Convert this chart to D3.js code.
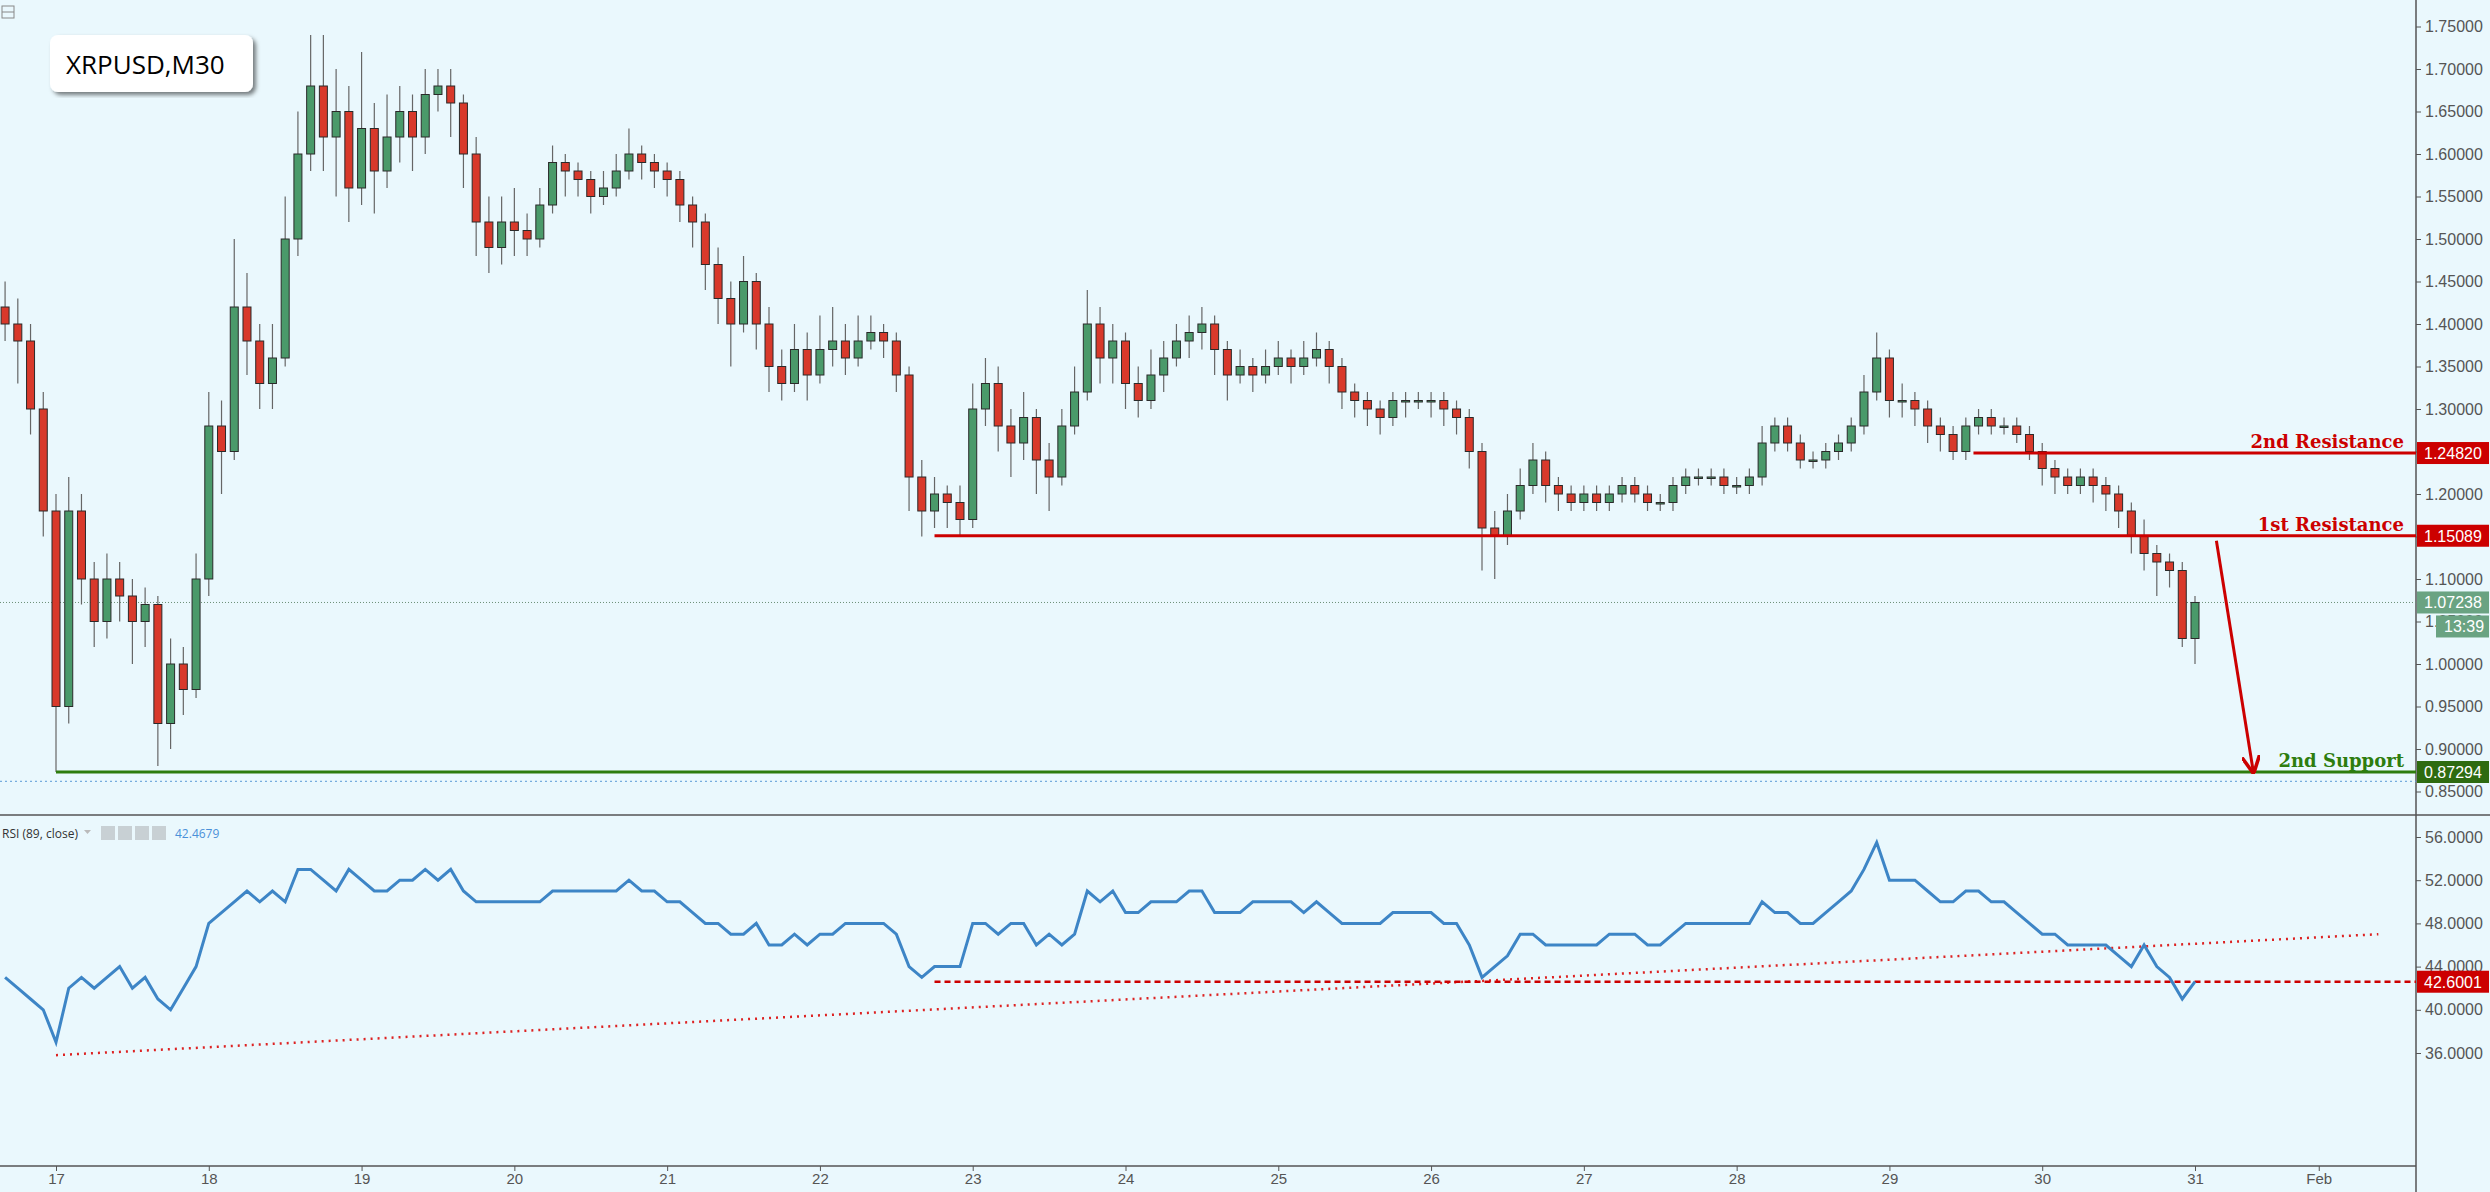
<!DOCTYPE html>
<html><head><meta charset="utf-8">
<script src="https://cdn.jsdelivr.net/npm/d3@7"></script>
<style>body{margin:0;background:#eaf8fd;}svg{display:block;font-family:"Liberation Sans",Arial,sans-serif;}</style>
</head><body><svg id="c" width="2490" height="1192"></svg>
<script>
// 2-hour bars, starting 16 Jan 16:00
const startDay = 16.6667;
const barStep = 1/12;
const closes = [1.40,1.38,1.30,1.18,0.95,1.18,1.10,1.05,1.10,1.08,1.05,1.07,0.93,1.00,0.97,1.10,1.28,1.25,1.42,1.38,
1.33,1.36,1.50,1.60,1.68,1.62,1.65,1.56,1.63,1.58,1.62,1.65,1.62,1.67,1.68,1.66,1.60,1.52,1.49,1.52,
1.51,1.50,1.54,1.59,1.58,1.57,1.55,1.56,1.58,1.60,1.59,1.58,1.57,1.54,1.52,1.47,1.43,1.40,1.45,1.40,
1.35,1.33,1.37,1.34,1.37,1.38,1.36,1.38,1.39,1.38,1.34,1.22,1.18,1.20,1.19,1.17,1.30,1.33,1.28,1.26,
1.29,1.24,1.22,1.28,1.32,1.40,1.36,1.38,1.33,1.31,1.34,1.36,1.38,1.39,1.40,1.37,1.34,1.35,1.34,1.35,
1.36,1.35,1.36,1.37,1.35,1.32,1.31,1.30,1.29,1.31,1.31,1.31,1.31,1.30,1.29,1.25,1.16,1.15,1.18,1.21,
1.24,1.21,1.20,1.19,1.20,1.19,1.20,1.21,1.20,1.19,1.19,1.21,1.22,1.22,1.22,1.21,1.21,1.22,1.26,1.28,
1.26,1.24,1.24,1.25,1.26,1.28,1.32,1.36,1.31,1.31,1.30,1.28,1.27,1.25,1.28,1.29,1.28,1.28,1.27,1.25,
1.23,1.22,1.21,1.22,1.21,1.20,1.18,1.15,1.13,1.12,1.11,1.03,1.07238];
const highs = [1.45,1.43,1.40,1.32,1.20,1.22,1.20,1.12,1.13,1.12,1.10,1.09,1.08,1.03,1.02,1.13,1.32,1.31,1.50,1.46,
1.40,1.40,1.55,1.65,1.74,1.74,1.70,1.68,1.72,1.66,1.67,1.68,1.67,1.70,1.70,1.70,1.67,1.62,1.55,1.55,
1.56,1.53,1.56,1.61,1.60,1.59,1.58,1.58,1.60,1.63,1.61,1.60,1.59,1.58,1.55,1.53,1.49,1.45,1.48,1.46,
1.42,1.37,1.40,1.39,1.41,1.42,1.40,1.41,1.41,1.40,1.39,1.35,1.24,1.22,1.21,1.21,1.33,1.36,1.35,1.30,
1.32,1.30,1.26,1.30,1.35,1.44,1.42,1.40,1.39,1.35,1.37,1.38,1.40,1.41,1.42,1.41,1.38,1.37,1.36,1.37,
1.38,1.37,1.38,1.39,1.38,1.36,1.33,1.32,1.31,1.32,1.32,1.32,1.32,1.32,1.31,1.30,1.26,1.18,1.20,1.23,
1.26,1.25,1.22,1.21,1.21,1.21,1.21,1.22,1.22,1.21,1.20,1.22,1.23,1.23,1.23,1.23,1.22,1.23,1.28,1.29,
1.29,1.27,1.25,1.26,1.27,1.29,1.34,1.39,1.37,1.33,1.32,1.31,1.29,1.28,1.29,1.30,1.30,1.29,1.29,1.28,
1.26,1.24,1.23,1.23,1.23,1.22,1.21,1.19,1.17,1.14,1.13,1.12,1.08];
const lows = [1.38,1.33,1.27,1.15,0.873,0.93,1.07,1.02,1.03,1.05,1.00,1.02,0.88,0.90,0.94,0.96,1.08,1.20,1.24,1.34,
1.30,1.30,1.35,1.48,1.58,1.58,1.55,1.52,1.54,1.53,1.56,1.59,1.58,1.60,1.65,1.62,1.56,1.48,1.46,1.47,
1.48,1.48,1.49,1.53,1.55,1.55,1.53,1.54,1.55,1.57,1.57,1.56,1.55,1.52,1.49,1.44,1.40,1.35,1.39,1.37,
1.32,1.31,1.32,1.31,1.33,1.35,1.34,1.35,1.37,1.36,1.32,1.18,1.15,1.16,1.16,1.15,1.16,1.28,1.25,1.22,
1.24,1.20,1.18,1.21,1.27,1.31,1.33,1.33,1.30,1.29,1.30,1.32,1.35,1.36,1.37,1.34,1.31,1.33,1.32,1.33,
1.34,1.33,1.34,1.35,1.33,1.30,1.29,1.28,1.27,1.28,1.29,1.30,1.29,1.28,1.27,1.23,1.11,1.10,1.14,1.17,
1.20,1.19,1.18,1.18,1.18,1.18,1.18,1.19,1.19,1.18,1.18,1.18,1.20,1.21,1.21,1.20,1.20,1.20,1.21,1.25,
1.25,1.23,1.23,1.23,1.24,1.25,1.27,1.31,1.29,1.29,1.28,1.26,1.25,1.24,1.24,1.27,1.27,1.27,1.26,1.24,
1.21,1.20,1.20,1.20,1.19,1.18,1.16,1.13,1.11,1.08,1.09,1.02,1.00];
const rsi = [43,42,41,40,37,42,43,42,43,44,42,43,41,40,42,44,48,49,50,51,
50,51,50,53,53,52,51,53,52,51,51,52,52,53,52,53,51,50,50,50,
50,50,50,51,51,51,51,51,51,52,51,51,50,50,49,48,48,47,47,48,
46,46,47,46,47,47,48,48,48,48,47,44,43,44,44,44,48,48,47,48,
48,46,47,46,47,51,50,51,49,49,50,50,50,51,51,49,49,49,50,50,
50,50,49,50,49,48,48,48,48,49,49,49,49,48,48,46,43,44,45,47,
47,46,46,46,46,46,47,47,47,46,46,47,48,48,48,48,48,48,50,49,
49,48,48,49,50,51,53,55.5,52,52,52,51,50,50,51,51,50,50,49,48,
47,47,46,46,46,46,45,44,46,44,43,41,42.6];
const priceTicks = [0.85,0.90,0.95,1.00,1.05,1.10,1.15,1.20,1.25,1.30,1.35,1.40,1.45,1.50,1.55,1.60,1.65,1.70,1.75];
const rsiTicks = [36,40,44,48,52,56];
const dayTicks = [17,18,19,20,21,22,23,24,25,26,27,28,29,30,31,31.81];
const dayLabels = ["17","18","19","20","21","22","23","24","25","26","27","28","29","30","31","Feb"];
const levels = [{name:"2nd Resistance",v:1.24820,from:29.55,color:"#cc0000"},
                {name:"1st Resistance",v:1.15089,from:22.75,color:"#cc0000"},
                {name:"2nd Support",v:0.87294,from:17.0,color:"#2e7d0e"}];
const lastPrice = 1.07238, supportDotted = 0.862;
const rsiLevel = 42.6001, rsiTrend = [[17.0,35.8],[32.2,47.0]];
const arrowPts = [[31.14,1.145],[31.38,0.875]];

const svg = d3.select("#c");
const axisX = 2416, rightEdge = 2490, bottomY = 1166;
const x = d3.scaleLinear().domain([17,31]).range([56,2195]);
const y = d3.scaleLinear().domain([0.85,1.75]).range([791.5,26.5]);
const yr = d3.scaleLinear().domain([36,56]).range([1053,837]);
const fmt5 = d3.format(".5f"), fmt4 = d3.format(".4f");
const FS = 16;

svg.append("line").attr("x1",0).attr("x2",rightEdge).attr("y1",815).attr("y2",815).attr("stroke","#555").attr("stroke-width",1.5);
svg.append("line").attr("x1",axisX).attr("x2",axisX).attr("y1",0).attr("y2",1192).attr("stroke","#555").attr("stroke-width",1.5);
svg.append("line").attr("x1",0).attr("x2",axisX).attr("y1",bottomY).attr("y2",bottomY).attr("stroke","#555").attr("stroke-width",1.5);

const ga = svg.append("g").attr("transform",`translate(${axisX},0)`).call(d3.axisRight(y).tickValues(priceTicks).tickFormat(fmt5).tickSize(5));
ga.select(".domain").remove();
ga.selectAll("text").attr("fill","#555").attr("font-size",FS).attr("x",9);
ga.selectAll("line").attr("stroke","#555");
const gr = svg.append("g").attr("transform",`translate(${axisX},0)`).call(d3.axisRight(yr).tickValues(rsiTicks).tickFormat(fmt4).tickSize(5));
gr.select(".domain").remove();
gr.selectAll("text").attr("fill","#555").attr("font-size",FS).attr("x",9);
gr.selectAll("line").attr("stroke","#555");
const gx = svg.append("g").attr("transform",`translate(0,${bottomY})`).call(d3.axisBottom(x).tickValues(dayTicks).tickFormat((d,i)=>dayLabels[i]).tickSize(5));
gx.select(".domain").remove();
gx.selectAll("text").attr("fill","#555").attr("font-size",15).attr("y",7);
gx.selectAll("line").attr("stroke","#555");

svg.append("rect").attr("x",2).attr("y",6).attr("width",12).attr("height",12).attr("fill","none").attr("stroke","#888");
svg.append("line").attr("x1",2).attr("x2",14).attr("y1",12).attr("y2",12).attr("stroke","#888");
const defs = svg.append("defs");
defs.append("filter").attr("id","sh").append("feDropShadow").attr("dx",3).attr("dy",3).attr("stdDeviation",2).attr("flood-color","#000").attr("flood-opacity",0.5);
svg.append("rect").attr("x",50).attr("y",35).attr("width",203).attr("height",57).attr("rx",8).attr("fill","#fff").attr("filter","url(#sh)");
svg.append("text").attr("x",66).attr("y",74).attr("font-size",26).attr("font-family","Open Sans, sans-serif").text("XRPUSD,M30");

svg.append("line").attr("x1",0).attr("x2",axisX).attr("y1",y(lastPrice)).attr("y2",y(lastPrice)).attr("stroke","#6b8f77").attr("stroke-dasharray","1,2");
svg.append("line").attr("x1",0).attr("x2",axisX).attr("y1",y(supportDotted)).attr("y2",y(supportDotted)).attr("stroke","#5a9ad6").attr("stroke-dasharray","2,3");

const tOf = i => startDay + i*barStep;
const cw = 8;
const cg = svg.append("g");
closes.forEach((c,i)=>{
  const o = i===0 ? 1.42 : closes[i-1];
  const up = c>=o;
  const xc = x(tOf(i));
  cg.append("line").attr("x1",xc).attr("x2",xc).attr("y1",y(highs[i])).attr("y2",y(lows[i])).attr("stroke","#666").attr("stroke-width",1.2);
  const top = y(Math.max(o,c)), bot = y(Math.min(o,c));
  cg.append("rect").attr("x",xc-cw/2).attr("y",top).attr("width",cw).attr("height",Math.max(1.5,bot-top))
    .attr("fill",up?"#4a9a6a":"#d8392b").attr("stroke","#2a2a2a").attr("stroke-width",1);
});

function priceBox(v, fill, txt, yy){
  svg.append("rect").attr("x",axisX+1).attr("y",yy-11).attr("width",rightEdge-axisX-2).attr("height",22).attr("fill",fill);
  svg.append("text").attr("x",axisX+8).attr("y",yy+6).attr("fill","#fff").attr("font-size",FS).text(txt);
}
levels.forEach(l=>{
  svg.append("line").attr("x1",x(l.from)).attr("x2",axisX).attr("y1",y(l.v)).attr("y2",y(l.v)).attr("stroke",l.color).attr("stroke-width",3);
  svg.append("text").attr("x",axisX-12).attr("y",y(l.v)-5).attr("text-anchor","end").attr("fill",l.color)
    .attr("font-family","DejaVu Serif, serif").attr("font-weight","bold").attr("font-size",18).text(l.name);
  priceBox(l.v, l.color==="#cc0000"?"#cc0000":"#2e6b10", fmt5(l.v), y(l.v));
});
priceBox(lastPrice, "#6aa382", fmt5(lastPrice), y(lastPrice));
svg.append("rect").attr("x",axisX+20).attr("y",y(lastPrice)+13).attr("width",rightEdge-axisX-21).attr("height",22).attr("fill","#6aa382");
svg.append("text").attr("x",axisX+28).attr("y",y(lastPrice)+30).attr("fill","#fff").attr("font-size",FS).text("13:39");

defs.append("marker").attr("id","ar").attr("viewBox","0 0 10 10").attr("refX",8).attr("refY",5).attr("markerWidth",6).attr("markerHeight",6).attr("orient","auto")
  .append("path").attr("d","M0,0 L10,5 L0,10").attr("fill","none").attr("stroke","#cc0000").attr("stroke-width",2);
svg.append("line").attr("x1",x(arrowPts[0][0])).attr("y1",y(arrowPts[0][1])).attr("x2",x(arrowPts[1][0])).attr("y2",y(arrowPts[1][1]))
  .attr("stroke","#cc0000").attr("stroke-width",3).attr("marker-end","url(#ar)");

svg.append("text").attr("x",2).attr("y",838).attr("font-size",12).attr("font-family","Open Sans, sans-serif").attr("fill","#333").text("RSI (89, close)");
svg.append("path").attr("d","M84,830 l7,0 l-3.5,4z").attr("fill","#bbb");
[101,118,135,152].forEach(px=>{
  svg.append("rect").attr("x",px).attr("y",826).attr("width",14).attr("height",14).attr("fill","#c8d0d4");
});
svg.append("text").attr("x",175).attr("y",838).attr("font-size",12).attr("font-family","Open Sans, sans-serif").attr("fill","#4a90d9").text("42.4679");

svg.append("line").attr("x1",x(rsiTrend[0][0])).attr("y1",yr(rsiTrend[0][1])).attr("x2",x(rsiTrend[1][0])).attr("y2",yr(rsiTrend[1][1]))
  .attr("stroke","#dd2222").attr("stroke-width",2.5).attr("stroke-dasharray","2,5");
svg.append("line").attr("x1",x(22.75)).attr("x2",axisX).attr("y1",yr(rsiLevel)).attr("y2",yr(rsiLevel)).attr("stroke","#cc0000").attr("stroke-width",2.5).attr("stroke-dasharray","6,4");
svg.append("path").datum(rsi).attr("fill","none").attr("stroke","#3d85c6").attr("stroke-width",3)
  .attr("d",d3.line().x((d,i)=>x(tOf(i))).y(d=>yr(d)));
svg.append("rect").attr("x",axisX+1).attr("y",yr(rsiLevel)-11).attr("width",rightEdge-axisX-2).attr("height",22).attr("fill","#cc0000");
svg.append("text").attr("x",axisX+8).attr("y",yr(rsiLevel)+6).attr("fill","#fff").attr("font-size",FS).text(fmt4(rsiLevel));
</script></body></html>
